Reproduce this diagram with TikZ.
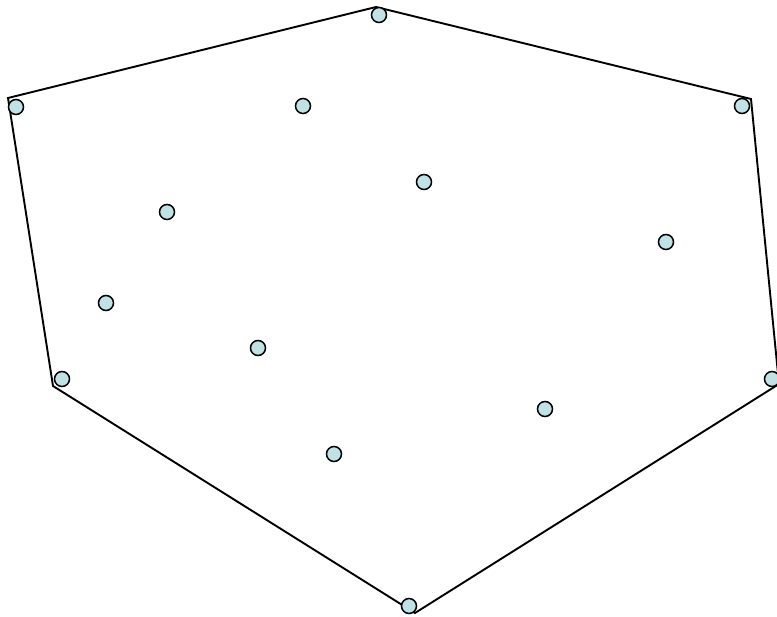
\documentclass[tikz,border=0pt]{standalone}
\usepackage{tikz}
\usetikzlibrary{positioning,calc}
\usepackage{xcolor}
\definecolor{ptfill}{RGB}{192,226,228}

\begin{document}
\begin{tikzpicture}[x=1pt, y=-1pt,
  pt/.style={circle, draw=black, fill=ptfill, line width=1.5pt, minimum size=15pt, inner sep=0pt},
  hull/.style={draw=black, line width=1.9pt, line join=miter}]
  \useasboundingbox (0,0) rectangle (777,617);
  % hull corners
  \coordinate (cT)  at (376,7);
  \coordinate (cUR) at (751,99);
  \coordinate (cR)  at (779,384);
  \coordinate (cB)  at (415,613);
  \coordinate (cL)  at (53,386);
  \coordinate (cUL) at (8,98);
  \draw[hull] (cT) -- (cUR) -- (cR) -- (cB) -- (cL) -- (cUL) -- cycle;
  % points on the hull
  \node[pt] (pT)  at (379,15)  {};
  \node[pt] (pUR) at (742,106) {};
  \node[pt] (pR)  at (772,379) {};
  \node[pt] (pB)  at (409,606) {};
  \node[pt] (pL)  at (62,379)  {};
  \node[pt] (pUL) at (16,107)  {};
  % interior points
  \foreach \n/\x/\y in {a/303/106, b/424/182, c/167/212, d/666/242,
                        e/106/303, f/258/348, g/545/409, h/334/454}
    \node[pt] (p\n) at (\x,\y) {};
\end{tikzpicture}
\end{document}
